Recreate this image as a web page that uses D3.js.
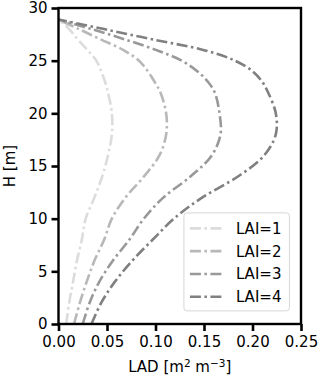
<!DOCTYPE html>
<html>
<head>
<meta charset="utf-8">
<script src="https://cdn.jsdelivr.net/npm/d3@7"></script>
<style>
  body { margin: 0; background: #fff; }
  text { font-family: "DejaVu Sans", sans-serif; }
</style>
</head>
<body>
<div id="chart"></div>
<script>
const heights = [0, 2, 4, 6, 8, 10, 12, 14, 16, 18, 20, 22, 23, 24, 25, 26, 27, 28, 28.9];
const lai1 = [0.008, 0.011, 0.015, 0.019, 0.024, 0.028, 0.037, 0.045, 0.051, 0.055, 0.055, 0.051, 0.048, 0.044, 0.039, 0.030, 0.020, 0.011, 0];
const lai2 = [0.016, 0.022, 0.029, 0.037, 0.047, 0.055, 0.069, 0.088, 0.104, 0.111, 0.111, 0.105, 0.099, 0.092, 0.083, 0.067, 0.044, 0.021, 0];
const lai3 = [0.025, 0.032, 0.042, 0.056, 0.073, 0.088, 0.108, 0.136, 0.158, 0.167, 0.166, 0.161, 0.154, 0.143, 0.127, 0.101, 0.069, 0.034, 0];
const lai4 = [0.034, 0.044, 0.058, 0.076, 0.097, 0.119, 0.148, 0.185, 0.212, 0.224, 0.224, 0.216, 0.210, 0.200, 0.182, 0.150, 0.098, 0.047, 0];
const labels = ["LAI=1", "LAI=2", "LAI=3", "LAI=4"];
const colors = ["#dcdcdc", "#b8b8b8", "#999999", "#808080"];
const xTicks = [0, 0.05, 0.10, 0.15, 0.20, 0.25];
const yTicks = [0, 5, 10, 15, 20, 25, 30];

const series = [lai1, lai2, lai3, lai4].map(function(v, i) {
  return { label: labels[i], color: colors[i], values: v.map(function(d, j) { return [d, heights[j]]; }) };
});

// layout
const W = 320, H = 378;
const margin = { top: 8, right: 19, bottom: 54, left: 58.5 };
const width = W - margin.left - margin.right;
const height = H - margin.top - margin.bottom;

const svg = d3.select("#chart").append("svg")
    .attr("width", W)
    .attr("height", H)
  .append("g")
    .attr("transform", "translate(" + margin.left + "," + margin.top + ")");

const x = d3.scaleLinear().domain([0, 0.25]).range([0, width]);
const y = d3.scaleLinear().domain([0, 30]).range([height, 0]);

const dash = "11,3.5,2.5,3.5";

// curves
const line = d3.line()
    .curve(d3.curveCatmullRom.alpha(0.5))
    .x(function(d) { return x(d[0]); })
    .y(function(d) { return y(d[1]); });

svg.selectAll(".curve")
  .data(series)
  .join("path")
    .attr("class", "curve")
    .attr("fill", "none")
    .attr("stroke", function(d) { return d.color; })
    .attr("stroke-width", 2.6)
    .attr("stroke-dasharray", dash)
    .attr("d", function(d) { return line(d.values); });

// frame
svg.append("rect")
    .attr("width", width)
    .attr("height", height)
    .attr("fill", "none")
    .attr("stroke", "#000")
    .attr("stroke-width", 2.4);

// axes
const xAxis = svg.append("g")
    .attr("transform", "translate(0," + height + ")")
    .call(d3.axisBottom(x).tickValues(xTicks).tickFormat(d3.format(".2f")).tickSizeInner(7).tickSizeOuter(0).tickPadding(5));
const yAxis = svg.append("g")
    .call(d3.axisLeft(y).tickValues(yTicks).tickFormat(d3.format("d")).tickSizeInner(7).tickSizeOuter(0).tickPadding(4));

[xAxis, yAxis].forEach(function(a) {
  a.select(".domain").remove();
  a.selectAll(".tick line").attr("stroke", "#000").attr("stroke-width", 2.6);
  a.selectAll(".tick text").attr("fill", "#000").style("font-size", "15px")
    .style("font-family", "'DejaVu Sans', sans-serif");
});

// axis titles
const xl = svg.append("text")
    .attr("x", width / 2)
    .attr("y", height + 48)
    .attr("text-anchor", "middle")
    .style("font-size", "15px");
xl.append("tspan").text("LAD [m");
xl.append("tspan").attr("dy", -5).style("font-size", "10.5px").text("2");
xl.append("tspan").attr("dy", 5).text(" m");
xl.append("tspan").attr("dy", -5).style("font-size", "10.5px").text("\u22123");
xl.append("tspan").attr("dy", 5).text("]");

svg.append("text")
    .attr("transform", "translate(" + (-44) + "," + (height / 2) + ") rotate(-90)")
    .attr("text-anchor", "middle")
    .style("font-size", "15px")
    .text("H [m]");

// legend
const lg = svg.append("g").attr("transform", "translate(" + (x(0.1293)) + "," + (y(10.55)) + ")");
lg.append("rect")
    .attr("width", 105.5)
    .attr("height", 98)
    .attr("rx", 3)
    .attr("fill", "#fff")
    .attr("fill-opacity", 0.8)
    .attr("stroke", "#d6d6d6")
    .attr("stroke-width", 1);

const rows = lg.selectAll(".row")
  .data(series)
  .join("g")
    .attr("class", "row")
    .attr("transform", function(d, i) { return "translate(0," + (15.5 + i * 22.8) + ")"; });
rows.append("line")
    .attr("x1", 6).attr("x2", 38)
    .attr("stroke", function(d) { return d.color; })
    .attr("stroke-width", 2.6)
    .attr("stroke-dasharray", dash);
rows.append("text")
    .attr("x", 52)
    .attr("y", 5.5)
    .style("font-size", "15px")
    .text(function(d) { return d.label; });
</script>
</body>
</html>
